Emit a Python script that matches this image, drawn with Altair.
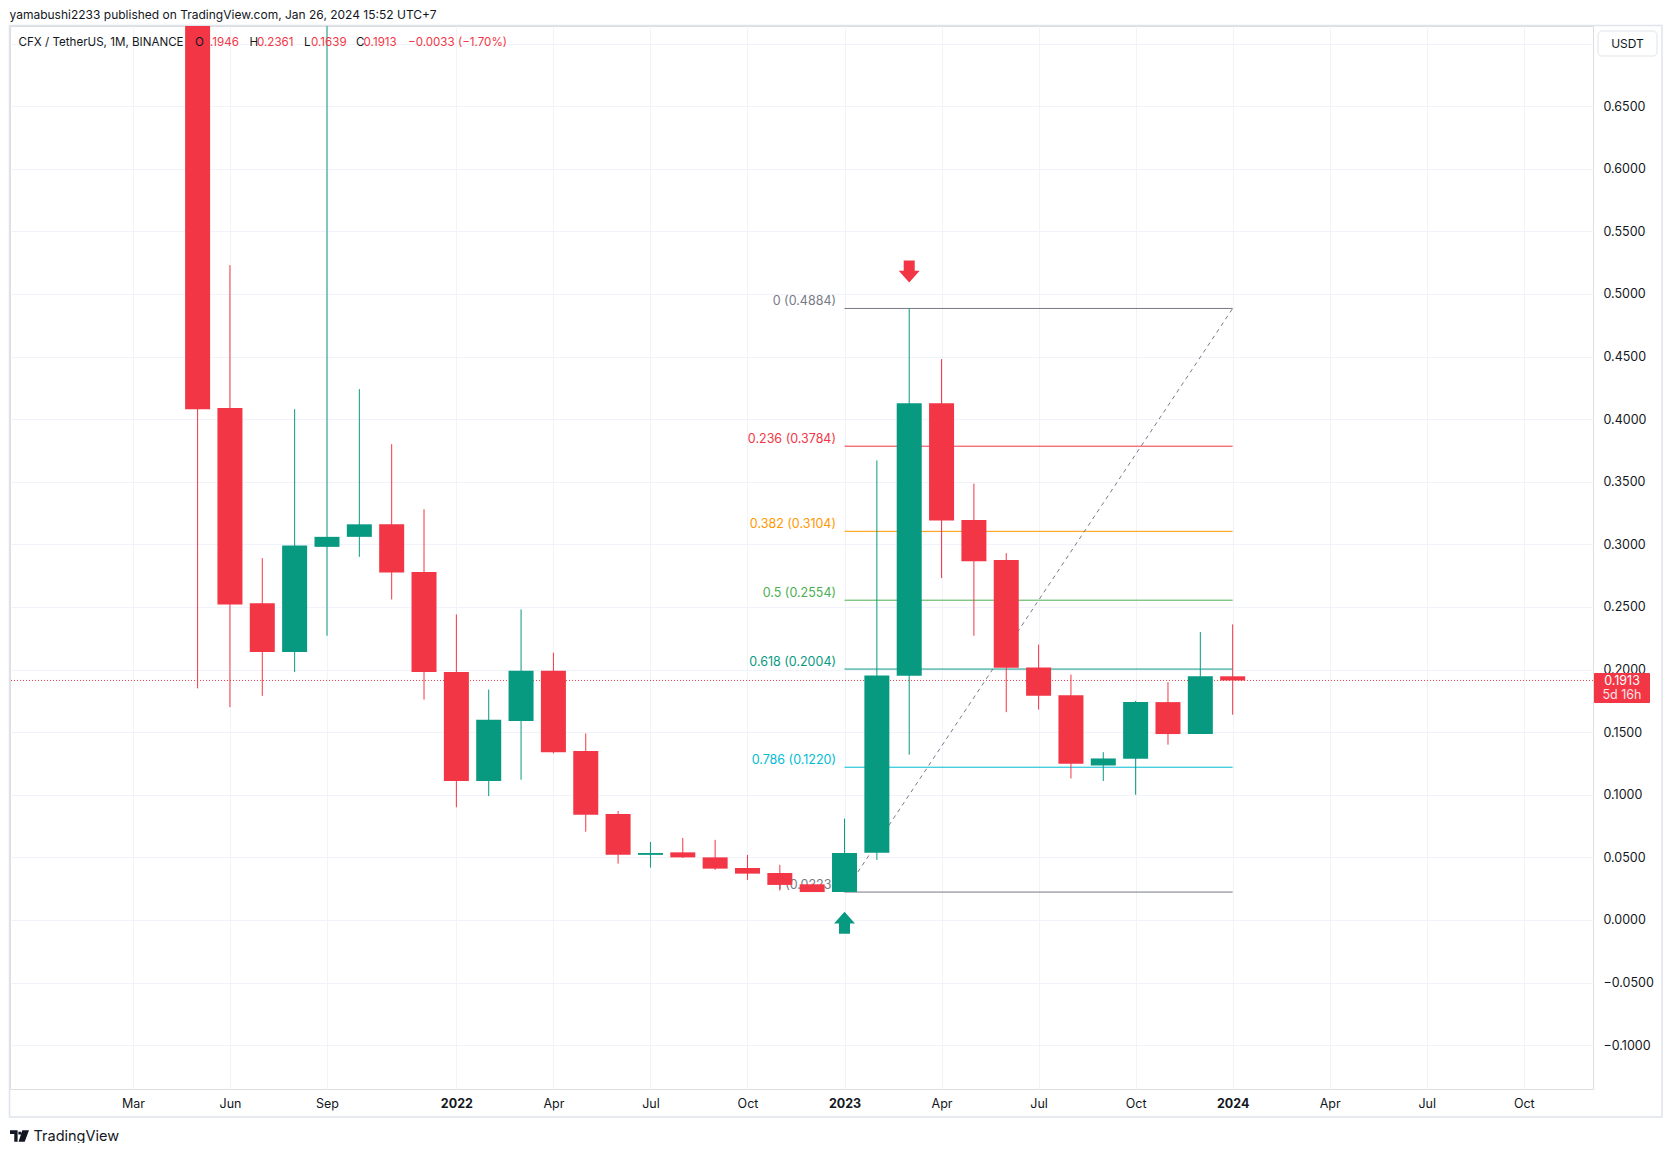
import altair as alt
import pandas as pd

# ---------------- data ----------------
# month index: 0 = Jan 2021  -> May 2021 .. Jan 2024
month_idx = list(range(4, 37))
opens = [0.950, 0.409, 0.253, 0.214, 0.298, 0.306, 0.316, 0.278, 0.198, 0.111, 0.159,
         0.199, 0.135, 0.0847, 0.052, 0.054, 0.050, 0.0415, 0.0375, 0.0285, 0.0223,
         0.0536, 0.195, 0.4127, 0.3195, 0.2875, 0.2017, 0.1795, 0.1234, 0.1287, 0.174,
         0.1485, 0.1946]
highs = [1.100, 0.523, 0.289, 0.408, 0.750, 0.424, 0.380, 0.328, 0.244, 0.184, 0.248,
         0.2135, 0.149, 0.087, 0.0623, 0.0655, 0.064, 0.052, 0.044, 0.029, 0.081,
         0.367, 0.4884, 0.448, 0.3485, 0.293, 0.220, 0.196, 0.134, 0.175, 0.190,
         0.230, 0.2361]
lows = [0.185, 0.170, 0.179, 0.198, 0.227, 0.290, 0.256, 0.176, 0.090, 0.099, 0.112,
        0.133, 0.0705, 0.045, 0.0418, 0.0495, 0.040, 0.032, 0.0234, 0.0223, 0.0223,
        0.048, 0.132, 0.273, 0.227, 0.166, 0.168, 0.113, 0.111, 0.100, 0.140,
        0.1485, 0.1639]
closes = [0.408, 0.252, 0.214, 0.299, 0.306, 0.316, 0.2775, 0.198, 0.111, 0.160, 0.199,
          0.134, 0.084, 0.052, 0.0535, 0.050, 0.041, 0.037, 0.028, 0.0223, 0.0535,
          0.1952, 0.4127, 0.319, 0.2865, 0.2014, 0.179, 0.1247, 0.129, 0.174, 0.1485,
          0.1946, 0.1913]

x_tick_months = [2, 5, 8, 12, 15, 18, 21, 24, 27, 30, 33, 36, 39, 42, 45]
x_tick_labels = ["Mar", "Jun", "Sep", "2022", "Apr", "Jul", "Oct", "2023",
                 "Apr", "Jul", "Oct", "2024", "Apr", "Jul", "Oct"]
y_ticks = [-0.10, -0.05, 0.0, 0.05, 0.10, 0.15, 0.20, 0.25, 0.30, 0.35, 0.40,
           0.45, 0.50, 0.55, 0.60, 0.65, 0.70]

fib_levels = ["0", "0.236", "0.382", "0.5", "0.618", "0.786", "1"]
fib_prices = [0.4884, 0.3784, 0.3104, 0.2554, 0.2004, 0.1220, 0.0223]
fib_colors = ["#787B86", "#F23645", "#FF9800", "#4CAF50", "#089981", "#00BCD4", "#787B86"]
fib_start_month, fib_end_month = 24, 36

arrow_months = [26, 24]
arrow_prices = [0.518, -0.0023]
arrow_dirs = ["down", "up"]

last_price = 0.1913
countdown = "5d 16h"
change_text = "\u22120.0033 (\u22121.70%)"

UP, DOWN = "#089981", "#F23645"
DARK = "#131722"
FONT = "Inter"
W, H = 1583, 1063

# ---------------- frames ----------------
candles = pd.DataFrame({"m": month_idx, "open": opens, "high": highs,
                        "low": lows, "close": closes})
candles["dir"] = ["up" if c >= o else "down" for o, c in zip(opens, closes)]

fib = pd.DataFrame({"level": fib_levels, "price": fib_prices,
                    "start": fib_start_month, "end": fib_end_month})
fib["label"] = [f"{l} ({p:.4f})" for l, p in zip(fib_levels, fib_prices)]
diag = pd.DataFrame({"m": [fib_start_month, fib_end_month],
                     "price": [fib_prices[-1], fib_prices[0]]})
arrows = pd.DataFrame({"m": arrow_months, "price": arrow_prices, "dir": arrow_dirs})
lastdf = pd.DataFrame({"price": [last_price], "label": [f"{last_price:.4f}"],
                       "cd": [countdown]})
one = pd.DataFrame({"a": [0]})

xscale = alt.Scale(domain=[-1.8, 47.14], zero=False, nice=False, padding=0)
yscale = alt.Scale(domain=[-0.135, 0.714], zero=False, nice=False, padding=0)

label_expr_x = ("[" + ",".join(f"'{t}'" for t in x_tick_labels) + "][indexof(["
                + ",".join(str(v) for v in x_tick_months) + "], datum.value)]")

X = alt.X("m:Q", scale=xscale, title=None,
          axis=alt.Axis(values=x_tick_months, labelExpr=label_expr_x, grid=True,
                        gridColor="#f0f3fa", domain=False, ticks=False, tickSize=0,
                        labelPadding=8, labelFontSize=12.5, labelColor=DARK,
                        labelFont=FONT, labelFlush=False, labelOverlap=False,
                        labelFontWeight={"condition": {"test": "datum.value % 12 === 0",
                                                       "value": "bold"},
                                         "value": "normal"}))
Y = alt.Y("low:Q", scale=yscale, title=None,
          axis=alt.Axis(orient="right", values=y_ticks,
                        labelExpr="datum.value > 0.68 ? '' : format(datum.value, '.4f')",
                        grid=True, gridColor="#f0f3fa", domain=False, ticks=False,
                        tickSize=0, labelPadding=10, labelAlign="left",
                        labelFontSize=12.5, labelColor=DARK, labelFont=FONT,
                        labelFlush=False, labelOverlap=False))

color_scale = alt.Scale(domain=["up", "down"], range=[UP, DOWN])

# frame around pane + axes
frame = alt.Chart(one).mark_rect(fill="transparent", stroke="#e0e3eb", strokeWidth=1.5).encode(
    x=alt.value(-0.5), x2=alt.value(1652), y=alt.value(-0.5), y2=alt.value(1091))

wicks = alt.Chart(candles).mark_rule(strokeWidth=1, clip=True).encode(
    x=X, y=Y, y2="high:Q",
    color=alt.Color("dir:N", scale=color_scale, legend=None))
bodies = alt.Chart(candles).mark_bar(size=25, clip=True).encode(
    x="m:Q", y=alt.Y("open:Q"), y2="close:Q",
    color=alt.Color("dir:N", scale=color_scale, legend=None))

fib_color = alt.Color("level:N", scale=alt.Scale(domain=fib_levels, range=fib_colors),
                      legend=None)
fib_lines = alt.Chart(fib).mark_rule(strokeWidth=1).encode(
    x="start:Q", x2="end:Q", y="price:Q", color=fib_color)
fib_text = alt.Chart(fib).mark_text(align="right", baseline="middle", dx=-8.5, dy=-7.5,
                                    fontSize=12.5, font=FONT).encode(
    x="start:Q", y="price:Q", text="label:N", color=fib_color)
fib_diag = alt.Chart(diag).mark_line(color="#787B86", strokeWidth=1,
                                     strokeDash=[4, 4]).encode(x="m:Q", y="price:Q")

price_line = alt.Chart(lastdf).mark_rule(color=DOWN, strokeWidth=1,
                                         strokeDash=[1, 2]).encode(y="price:Q")

up_path = "M0,-1L0.95,0.05L0.5,0.05L0.5,1L-0.5,1L-0.5,0.05L-0.95,0.05Z"
down_path = "M0,1L0.95,-0.05L0.5,-0.05L0.5,-1L-0.5,-1L-0.5,-0.05L-0.95,-0.05Z"
arrow_layer = alt.Chart(arrows).mark_point(filled=True, size=484, opacity=1,
                                           strokeWidth=0).encode(
    x="m:Q", y="price:Q",
    shape=alt.Shape("dir:N", scale=alt.Scale(domain=["down", "up"],
                                             range=[down_path, up_path]), legend=None),
    color=alt.Color("dir:N", scale=color_scale, legend=None))

price_box = alt.Chart(lastdf).mark_rect(color=DOWN, yOffset=-7.5, y2Offset=22.5,
                                        cornerRadius=1).encode(
    x=alt.value(1584), x2=alt.value(1640), y="price:Q", y2="price:Q")
price_txt = alt.Chart(lastdf).mark_text(color="white", fontSize=12.5, font=FONT,
                                        baseline="middle", dy=1).encode(
    x=alt.value(1612), y="price:Q", text="label:N")
cd_txt = alt.Chart(lastdf).mark_text(color="#ffe3e6", fontSize=12.5, font=FONT,
                                     baseline="middle", dy=15).encode(
    x=alt.value(1612), y="price:Q", text="cd:N")

usdt_box = alt.Chart(one).mark_rect(fill="white", stroke="#e0e3eb", strokeWidth=1,
                                    cornerRadius=4).encode(
    x=alt.value(1588), x2=alt.value(1647), y=alt.value(5), y2=alt.value(30))


def txt(s, x, y, color=DARK, size=12.5, weight="normal", align="left"):
    return alt.Chart(pd.DataFrame({"t": [s]})).mark_text(
        align=align, baseline="middle", fontSize=size, font=FONT, color=color,
        fontWeight=weight).encode(text="t:N", x=alt.value(x), y=alt.value(y))


usdt_txt = txt("USDT", 1617.5, 17.5, size=12, align="center")
header = txt("yamabushi2233 published on TradingView.com, Jan 26, 2024 15:52 UTC+7",
             -0.5, -11, size=12)
o, h, l, c = opens[-1], highs[-1], lows[-1], closes[-1]
LS = 11.6
legend_layers = [
    txt("CFX / TetherUS, 1M, BINANCE", 8.5, 16.5, size=LS),
    txt("O", 185, 16.5, size=LS), txt(f"{o:.4f}", 193, 16.5, DOWN, size=LS),
    txt("H", 239.5, 16.5, size=LS), txt(f"{h:.4f}", 247, 16.5, DOWN, size=LS),
    txt("L", 294, 16.5, size=LS), txt(f"{l:.4f}", 301, 16.5, DOWN, size=LS),
    txt("C", 346, 16.5, size=LS), txt(f"{c:.4f}", 353.6, 16.5, DOWN, size=LS),
    txt(change_text, 398, 16.5, DOWN, size=LS),
]
logo = alt.Chart(one).mark_point(
    shape="M-1,-0.6H-0.2V0.6H-0.55V-0.2H-1Z M-0.12,-0.45H0.18V-0.15H-0.12Z M0.3,-0.6H1L0.55,0.6H-0.1Z",
    filled=True, size=361, color=DARK, opacity=1, strokeWidth=0).encode(
    x=alt.value(9.5), y=alt.value(1110))
logo_txt = txt("TradingView", 23.5, 1110.5, size=14.5)

chart = alt.layer(
    frame, fib_lines, fib_diag, fib_text, price_line, wicks, bodies, arrow_layer,
    *legend_layers, header, price_box, price_txt, cd_txt, usdt_box, usdt_txt,
    logo, logo_txt
).resolve_scale(color="independent", shape="independent").properties(
    width=W, height=H,
    autosize=alt.AutoSizeParams(type="none"),
    padding={"left": 2, "top": 18, "right": 70, "bottom": 54},
    background="white",
).configure_view(stroke=None).configure(font=FONT)

chart.save("out.html", embed_options={"renderer": "svg", "actions": False})
